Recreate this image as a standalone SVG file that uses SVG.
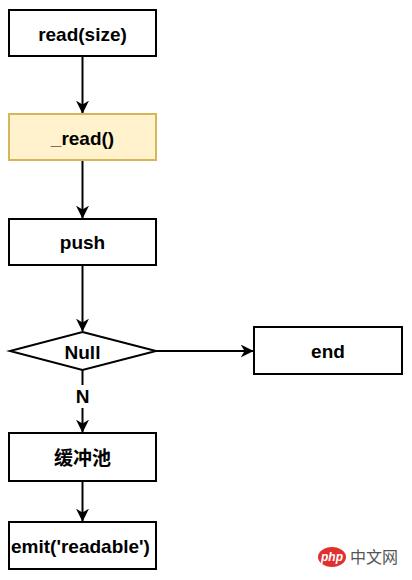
<svg xmlns="http://www.w3.org/2000/svg" width="412" height="580" viewBox="0 0 412 580">
<style>
.box{fill:#ffffff;stroke:#000000;stroke-width:2}
.yel{fill:#fff2cc;stroke:#d6b656;stroke-width:2}
.t{font-family:"Liberation Sans",Arial,"Noto Sans CJK SC",sans-serif;font-weight:bold;font-size:19px;fill:#000000;text-anchor:middle;dominant-baseline:central}
.c{stroke:#000000;stroke-width:2;fill:none}
</style>
<defs>
<marker id="arr" viewBox="0 0 10 10" refX="9.5" refY="5" markerWidth="13" markerHeight="13" markerUnits="userSpaceOnUse" orient="auto">
<path d="M0,0 L10,5 L0,10 L3,5 Z" fill="#000000"/>
</marker>
</defs>
<rect width="412" height="580" fill="#ffffff"/>
<g id="connectors">
<line class="c" x1="82.5" y1="56" x2="82.5" y2="113" marker-end="url(#arr)"/>
<line class="c" x1="82.5" y1="160" x2="82.5" y2="218" marker-end="url(#arr)"/>
<line class="c" x1="82.5" y1="265" x2="82.5" y2="331" marker-end="url(#arr)"/>
<line class="c" x1="156" y1="351" x2="253" y2="351" marker-end="url(#arr)"/>
<line class="c" x1="82.5" y1="370" x2="82.5" y2="432" marker-end="url(#arr)"/>
<rect x="73" y="385" width="19" height="23" fill="#ffffff"/>
<text class="t" x="82.5" y="396">N</text>
<line class="c" x1="82.5" y1="481" x2="82.5" y2="521" marker-end="url(#arr)"/>
</g>
<g id="node-read-size">
<rect class="box" x="9" y="10" width="147" height="46"/>
<text class="t" x="82.5" y="34">read(size)</text>
</g>
<g id="node-read">
<rect class="yel" x="9" y="114" width="147" height="46"/>
<text class="t" x="82.5" y="138">_read()</text>
</g>
<g id="node-push">
<rect class="box" x="9" y="219" width="147" height="46"/>
<text class="t" x="82.5" y="242">push</text>
</g>
<g id="node-null">
<polygon class="box" points="82.5,332 156,351 82.5,370 10,351"/>
<text class="t" x="82.5" y="352">Null</text>
</g>
<g id="node-end">
<rect class="box" x="254" y="327" width="148" height="47"/>
<text class="t" x="328" y="351">end</text>
</g>
<g id="node-buffer">
<rect class="box" x="9" y="433" width="147" height="48"/>
<text class="t" x="82.5" y="458">缓冲池</text>
</g>
<g id="node-emit">
<rect class="box" x="9" y="522" width="147" height="47"/>
<text class="t" x="80.5" y="546">emit('readable')</text>
</g>
<g id="watermark">
<ellipse cx="332" cy="557" rx="14" ry="10" fill="#e0312f"/>
<text x="332" y="561" font-family="'Liberation Sans',Arial,sans-serif" font-style="italic" font-weight="bold" font-size="12" fill="#ffffff" text-anchor="middle">php</text>
<text x="374" y="563" font-family="'Noto Sans CJK SC',sans-serif" font-size="16" fill="#555555" text-anchor="middle">中文网</text>
</g>
</svg>
